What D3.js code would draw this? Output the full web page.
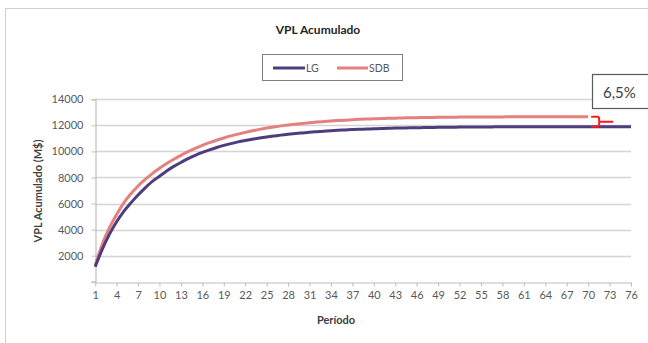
<!DOCTYPE html>
<html>
<head>
<meta charset="utf-8">
<script src="https://cdn.jsdelivr.net/npm/d3@7/dist/d3.min.js"></script>
<style>
  html, body { margin: 0; padding: 0; background: #fff; }
  svg { display: block; }
  text { font-family: Lato, "Open Sans", sans-serif; }
</style>
</head>
<body>
<svg id="chart" width="648" height="343"></svg>
<script>
// Accumulated NPV (M$) per period for the two scenarios
const periods = d3.range(1, 77);
const lgValues = [
  1150, 2500, 3650, 4600, 5400, 6050, 6650, 7200, 7700, 8100,
  8500, 8850, 9150, 9450, 9700, 9920, 10120, 10300, 10460, 10600,
  10730, 10840, 10940, 11030, 11110, 11180, 11250, 11310, 11370, 11420,
  11470, 11510, 11550, 11590, 11620, 11650, 11680, 11700, 11720, 11740,
  11760, 11775, 11790, 11800, 11810, 11820, 11830, 11840, 11848, 11855,
  11860, 11865, 11870, 11874, 11878, 11881, 11884, 11887, 11889, 11891,
  11893, 11894, 11895, 11896, 11897, 11897, 11898, 11898, 11899, 11899,
  11899, 11900, 11900, 11900, 11900, 11900
];
const sdbValues = [
  1250, 2900, 4150, 5150, 6050, 6750, 7350, 7850, 8300, 8700,
  9070, 9400, 9700, 9980, 10230, 10460, 10670, 10860, 11030, 11190,
  11330, 11460, 11580, 11690, 11790, 11880, 11960, 12030, 12090, 12150,
  12200, 12250, 12290, 12330, 12370, 12400, 12430, 12460, 12480, 12500,
  12520, 12540, 12555, 12570, 12580, 12590, 12600, 12608, 12615, 12621,
  12627, 12632, 12636, 12640, 12643, 12646, 12649, 12651, 12653, 12655,
  12657, 12658, 12659, 12660, 12661, 12662, 12662, 12663, 12663, 12663
];
const yTicks = [2000, 4000, 6000, 8000, 10000, 12000, 14000];
const xTicks = d3.range(1, 77, 3);
const seriesNames = ["LG", "SDB"];
const gapLabel = "6,5%";

const colors = { LG: "#4e3d7c", SDB: "#e3817f" };
const textColor = "#595959";
const gridColor = "#d4d4d4";

const svg = d3.select("#chart");

// chart area frame
svg.append("rect")
  .attr("x", 5.5).attr("y", 8.5)
  .attr("width", 700).attr("height", 400)
  .attr("fill", "#fff").attr("stroke", "#d0d0d0");

const x = d3.scaleLinear().domain([1, 76]).range([95.2, 631]);
const y = d3.scaleLinear().domain([0, 14000]).range([281.7, 99.3]);

// gridlines
svg.append("g").selectAll("line")
  .data(yTicks).join("line")
  .attr("x1", x(1)).attr("x2", x(76))
  .attr("y1", d => Math.round(y(d)) + 0.5).attr("y2", d => Math.round(y(d)) + 0.5)
  .attr("stroke", gridColor).attr("stroke-width", 1.4);

// y axis
const yAxis = svg.append("g")
  .attr("transform", `translate(${Math.round(x(1)) + 0.5},0)`)
  .call(d3.axisLeft(y).tickValues([0, ...yTicks]).tickSize(4)
        .tickFormat(d => d === 0 ? "" : d));
yAxis.select(".domain").attr("stroke", "#bfbfbf").attr("stroke-width", 1.2);
yAxis.selectAll(".tick line").attr("stroke", "#bfbfbf");
yAxis.selectAll(".tick text")
  .attr("fill", textColor).attr("font-size", 11).attr("x", -12);

// x axis
const xAxis = svg.append("g")
  .attr("transform", `translate(0,${Math.round(y(0)) + 0.5})`)
  .call(d3.axisBottom(x).tickValues(xTicks).tickSize(4).tickSizeOuter(0));
xAxis.select(".domain").attr("stroke", "#bfbfbf").attr("stroke-width", 1.2);
xAxis.selectAll(".tick line").attr("stroke", "#bfbfbf");
xAxis.selectAll(".tick text")
  .attr("fill", textColor).attr("font-size", 11).attr("y", 9);

// series lines
const line = d3.line()
  .x((d, i) => x(periods[i]))
  .y(d => y(d))
  .curve(d3.curveMonotoneX);

svg.append("path").datum(sdbValues)
  .attr("d", line).attr("fill", "none")
  .attr("stroke", colors.SDB).attr("stroke-width", 3);
svg.append("path").datum(lgValues)
  .attr("d", line).attr("fill", "none")
  .attr("stroke", colors.LG).attr("stroke-width", 3);

// title and axis titles
svg.append("text")
  .attr("x", 318).attr("y", 34)
  .attr("text-anchor", "middle").attr("font-size", 12).attr("font-weight", "bold")
  .attr("fill", "#262626").text("VPL Acumulado");

svg.append("text")
  .attr("transform", "translate(42,191) rotate(-90)")
  .attr("text-anchor", "middle").attr("font-size", 11).attr("font-weight", "bold")
  .attr("fill", "#404040").text("VPL Acumulado (M$)");

svg.append("text")
  .attr("x", 336).attr("y", 324)
  .attr("text-anchor", "middle").attr("font-size", 11).attr("font-weight", "bold")
  .attr("fill", "#404040").text("Período");

// legend
const legend = svg.append("g");
legend.append("rect")
  .attr("x", 262.5).attr("y", 54.5).attr("width", 140).attr("height", 26)
  .attr("fill", "#fff").attr("stroke", "#7f7f7f");
const legendItems = [
  { name: seriesNames[0], x0: 273, x1: 305 },
  { name: seriesNames[1], x0: 337, x1: 368 }
];
legendItems.forEach(it => {
  legend.append("line")
    .attr("x1", it.x0).attr("x2", it.x1).attr("y1", 68).attr("y2", 68)
    .attr("stroke", colors[it.name]).attr("stroke-width", 3);
  legend.append("text")
    .attr("x", it.x1 + 1).attr("y", 72).attr("font-size", 10.5)
    .attr("fill", textColor).text(it.name);
});

// gap annotation between the final values
const lastLG = lgValues[lgValues.length - 1];
const lastSDB = sdbValues[sdbValues.length - 1];
const bx = x(periods[sdbValues.length - 1]) + 3;
const yTop = y(lastSDB), yBot = y(lastLG), yMid = (yTop + yBot) / 2;
svg.append("path")
  .attr("d", `M${bx},${yTop} H${bx + 6} Q${bx + 8},${yTop} ${bx + 8},${yTop + 2} V${yMid - 1}
              Q${bx + 8},${yMid} ${bx + 10},${yMid} H${bx + 22}
              M${bx + 10},${yMid} Q${bx + 8},${yMid} ${bx + 8},${yMid + 1} V${yBot - 2}
              Q${bx + 8},${yBot} ${bx + 6},${yBot} H${bx}`)
  .attr("fill", "none").attr("stroke", "#ff1a1a").attr("stroke-width", 2);

svg.append("rect")
  .attr("x", 592.5).attr("y", 74.5).attr("width", 70).attr("height", 34)
  .attr("fill", "#fff").attr("stroke", "#595959").attr("stroke-width", 1.2);
svg.append("text")
  .attr("x", 603).attr("y", 98).attr("font-size", 15)
  .attr("fill", "#404040").text(gapLabel);
</script>
</body>
</html>
